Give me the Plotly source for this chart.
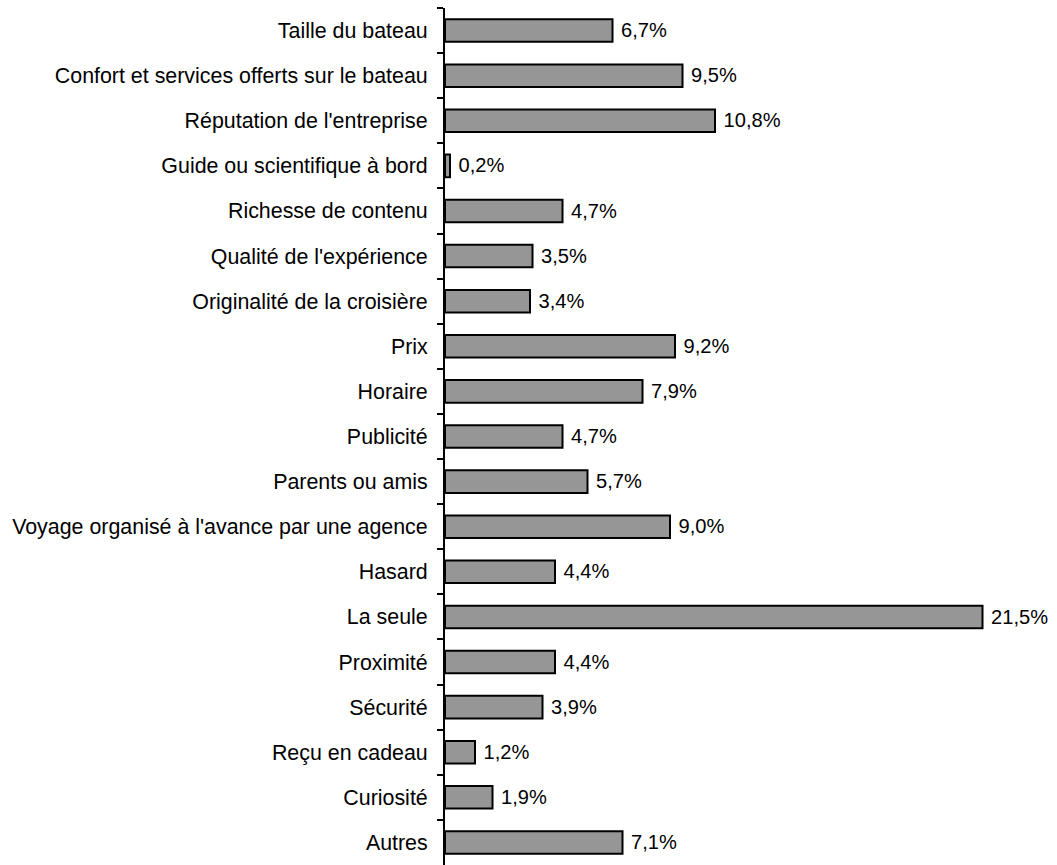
import plotly.graph_objects as go

# Reasons given for choosing the cruise (share of answers, %)
categories = [
    "Taille du bateau",
    "Confort et services offerts sur le bateau",
    "Réputation de l'entreprise",
    "Guide ou scientifique à bord",
    "Richesse de contenu",
    "Qualité de l'expérience",
    "Originalité de la croisière",
    "Prix",
    "Horaire",
    "Publicité",
    "Parents ou amis",
    "Voyage organisé à l'avance par une agence",
    "Hasard",
    "La seule",
    "Proximité",
    "Sécurité",
    "Reçu en cadeau",
    "Curiosité",
    "Autres",
]
values = [6.7, 9.5, 10.8, 0.2, 4.7, 3.5, 3.4, 9.2, 7.9, 4.7,
          5.7, 9.0, 4.4, 21.5, 4.4, 3.9, 1.2, 1.9, 7.1]

# French decimal comma; a non-breaking space keeps a small gap after each bar
labels = ["\u00a0" + f"{v:.1f}".replace(".", ",") + "%" for v in values]

FONT = "Liberation Sans, Arial, sans-serif"
SIZE = 21.4

fig = go.Figure(
    go.Bar(
        x=values,
        y=categories,
        orientation="h",
        width=0.5,
        marker=dict(color="#969696", line=dict(color="#000000", width=2)),
        text=labels,
        textposition="outside",
        textfont=dict(family=FONT, size=SIZE, color="#000000"),
        cliponaxis=False,
        hoverinfo="skip",
    )
)

fig.update_layout(
    width=1057,
    height=865,
    margin=dict(l=445, r=12, t=8, b=0),
    paper_bgcolor="white",
    plot_bgcolor="white",
    showlegend=False,
    font=dict(family=FONT, size=SIZE, color="#000000"),
    xaxis=dict(visible=False, range=[0, 24], fixedrange=True),
    yaxis=dict(
        type="category",
        categoryorder="array",
        categoryarray=categories,
        range=[len(categories) - 0.5, -0.5],
        showline=True,
        linecolor="#000000",
        linewidth=2,
        ticks="outside",
        tickson="boundaries",
        ticklen=6,
        tickwidth=2,
        tickcolor="#000000",
        showgrid=False,
        zeroline=False,
        ticklabelstandoff=11,
        tickfont=dict(family=FONT, size=SIZE, color="#000000"),
    ),
)

fig.write_html("out.html")
